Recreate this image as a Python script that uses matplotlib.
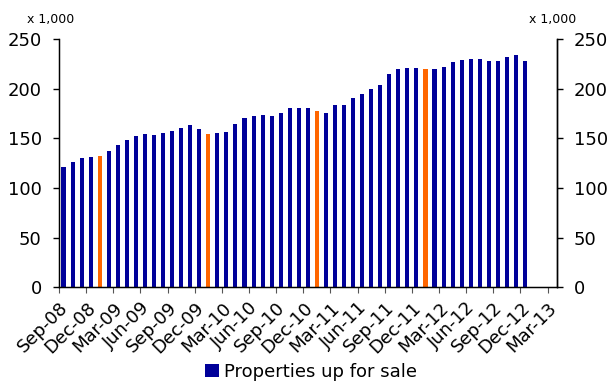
import matplotlib
matplotlib.use("Agg")
import matplotlib.pyplot as plt
import matplotlib.transforms as mtransforms
from matplotlib.patches import Patch

# Monthly series, Sep-08 .. Dec-12 (thousands of properties)
months = [
    "Sep-08", "Oct-08", "Nov-08", "Dec-08",
    "Jan-09", "Feb-09", "Mar-09", "Apr-09", "May-09", "Jun-09",
    "Jul-09", "Aug-09", "Sep-09", "Oct-09", "Nov-09", "Dec-09",
    "Jan-10", "Feb-10", "Mar-10", "Apr-10", "May-10", "Jun-10",
    "Jul-10", "Aug-10", "Sep-10", "Oct-10", "Nov-10", "Dec-10",
    "Jan-11", "Feb-11", "Mar-11", "Apr-11", "May-11", "Jun-11",
    "Jul-11", "Aug-11", "Sep-11", "Oct-11", "Nov-11", "Dec-11",
    "Jan-12", "Feb-12", "Mar-12", "Apr-12", "May-12", "Jun-12",
    "Jul-12", "Aug-12", "Sep-12", "Oct-12", "Nov-12", "Dec-12",
]
for_sale = [
    121, 126, 130.5, 131.5,
    132.5, 137.5, 143, 148, 153, 155,
    154, 155.5, 157.5, 160.5, 163.5, 159.5,
    154.5, 155.5, 157, 164.5, 171, 172.5,
    174, 172.5, 175.5, 180.5, 181, 180.5,
    178, 176, 183.5, 183.5, 191, 195,
    200, 204.5, 215.5, 220, 221, 221,
    220, 220, 222, 227, 229.5, 230.5,
    230.5, 228, 228, 232, 234.5, 228,
]
highlighted = ["Jan-09", "Jan-10", "Jan-11", "Jan-12"]
tick_labels = [
    "Sep-08", "Dec-08", "Mar-09", "Jun-09", "Sep-09", "Dec-09", "Mar-10",
    "Jun-10", "Sep-10", "Dec-10", "Mar-11", "Jun-11", "Sep-11", "Dec-11",
    "Mar-12", "Jun-12", "Sep-12", "Dec-12", "Mar-13",
]
n_slots = 55
legend_label = "Properties up for sale"

BLUE = "#000099"
ORANGE = "#FF6600"
FS = 13

fig = plt.figure(figsize=(6.1, 3.85), dpi=100)
ax = fig.add_axes([0.0967, 0.2545, 0.8159, 0.643])

colors = [ORANGE if m in highlighted else BLUE for m in months]
x = [i + 0.5 for i in range(len(months))]
ax.bar(x, for_sale, width=0.45, color=colors, linewidth=0)

ax.set_xlim(0, n_slots)
ax.set_ylim(0, 250)
ax.set_yticks(range(0, 251, 50))
ax.set_xticks(range(0, 3 * len(tick_labels), 3))
ax.set_xticklabels(tick_labels, rotation=45, ha="right", va="top",
                   rotation_mode="anchor", fontsize=FS)
# nudge the slanted month labels slightly down and right
shift = mtransforms.ScaledTranslation(3 / 100, -5 / 100, fig.dpi_scale_trans)
for lbl in ax.get_xticklabels():
    lbl.set_transform(lbl.get_transform() + shift)

ax.spines["top"].set_visible(False)
for s in ("left", "bottom", "right"):
    ax.spines[s].set_linewidth(1.0)
    ax.spines[s].set_color("black")
ax.tick_params(axis="y", direction="out", length=4.5, width=1,
               labelsize=FS, pad=8)
ax.tick_params(axis="x", direction="out", length=4.5, width=0.8,
               color="#555555", labelsize=FS, pad=4)

ax2 = ax.twinx()
ax2.set_ylim(0, 250)
ax2.set_yticks(range(0, 251, 50))
ax2.spines["top"].set_visible(False)
ax2.spines["right"].set_linewidth(1.0)
ax2.tick_params(axis="y", direction="out", length=4.5, width=1,
                labelsize=FS, pad=8)

fig.text(27 / 610, 1 - 20 / 385, "x 1,000", fontsize=9, va="center", ha="left")
fig.text(529 / 610, 1 - 20 / 385, "x 1,000", fontsize=9, va="center", ha="left")

handle = Patch(facecolor=BLUE, edgecolor="none")
fig.legend([handle], [legend_label], loc="lower center",
           bbox_to_anchor=(0.51, -0.032), frameon=False, fontsize=FS,
           handlelength=0.75, handleheight=0.75, handletextpad=0.3)

fig.savefig("out.png", dpi=100)
